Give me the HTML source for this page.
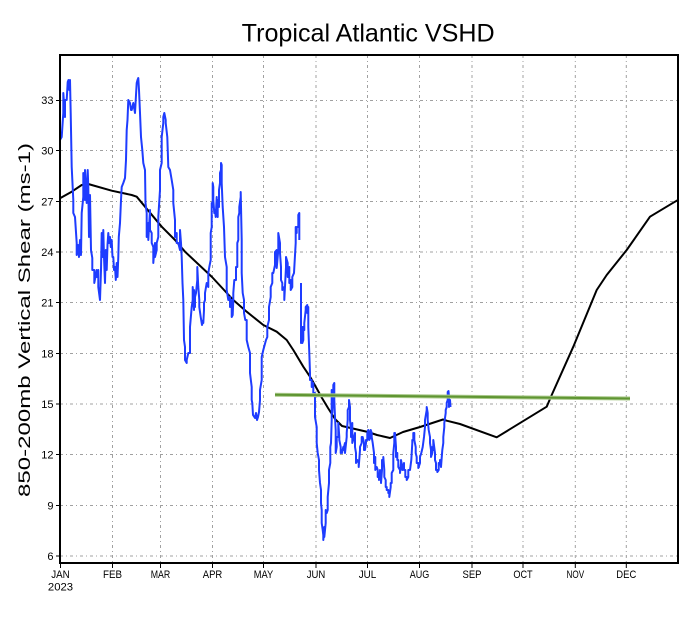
<!DOCTYPE html>
<html><head><meta charset="utf-8"><style>
html,body{margin:0;padding:0;background:#fff;}
svg{display:block;}
text{font-family:"Liberation Sans",sans-serif;fill:#000;}
</style></head><body>
<svg width="690" height="618" viewBox="0 0 690 618" xmlns="http://www.w3.org/2000/svg">
<rect width="690" height="618" fill="#fff"/>
<text x="241.7" y="41.7" font-size="25" textLength="253" lengthAdjust="spacingAndGlyphs">Tropical Atlantic VSHD</text>
<text transform="translate(30,320) rotate(-90)" text-anchor="middle" font-size="16.3" textLength="354" lengthAdjust="spacingAndGlyphs">850-200mb Vertical Shear (ms-1)</text>
<g stroke="#a0a0a0" stroke-width="1" stroke-dasharray="3 3 1 3" fill="none">
<line x1="60" y1="100.5" x2="678" y2="100.5"/>
<line x1="60" y1="150.5" x2="678" y2="150.5"/>
<line x1="60" y1="201.5" x2="678" y2="201.5"/>
<line x1="60" y1="252" x2="678" y2="252"/>
<line x1="60" y1="302.5" x2="678" y2="302.5"/>
<line x1="60" y1="353.5" x2="678" y2="353.5"/>
<line x1="60" y1="404" x2="678" y2="404"/>
<line x1="60" y1="454.5" x2="678" y2="454.5"/>
<line x1="60" y1="505.5" x2="678" y2="505.5"/>
<line x1="60" y1="556" x2="678" y2="556"/>
<line x1="112.5" y1="55" x2="112.5" y2="563"/>
<line x1="160.5" y1="55" x2="160.5" y2="563"/>
<line x1="212.5" y1="55" x2="212.5" y2="563"/>
<line x1="263.5" y1="55" x2="263.5" y2="563"/>
<line x1="316" y1="55" x2="316" y2="563"/>
<line x1="367.5" y1="55" x2="367.5" y2="563"/>
<line x1="419.5" y1="55" x2="419.5" y2="563"/>
<line x1="472" y1="55" x2="472" y2="563"/>
<line x1="523" y1="55" x2="523" y2="563"/>
<line x1="575.3" y1="55" x2="575.3" y2="563"/>
<line x1="626.3" y1="55" x2="626.3" y2="563"/>
</g>
<g stroke="#000" stroke-width="1">
<line x1="56" y1="100.5" x2="60" y2="100.5"/>
<line x1="56" y1="150.5" x2="60" y2="150.5"/>
<line x1="56" y1="201.5" x2="60" y2="201.5"/>
<line x1="56" y1="252" x2="60" y2="252"/>
<line x1="56" y1="302.5" x2="60" y2="302.5"/>
<line x1="56" y1="353.5" x2="60" y2="353.5"/>
<line x1="56" y1="404" x2="60" y2="404"/>
<line x1="56" y1="454.5" x2="60" y2="454.5"/>
<line x1="56" y1="505.5" x2="60" y2="505.5"/>
<line x1="56" y1="556" x2="60" y2="556"/>
<line x1="60.5" y1="563" x2="60.5" y2="568"/>
<line x1="112.5" y1="563" x2="112.5" y2="568"/>
<line x1="160.5" y1="563" x2="160.5" y2="568"/>
<line x1="212.5" y1="563" x2="212.5" y2="568"/>
<line x1="263.5" y1="563" x2="263.5" y2="568"/>
<line x1="316" y1="563" x2="316" y2="568"/>
<line x1="367.5" y1="563" x2="367.5" y2="568"/>
<line x1="419.5" y1="563" x2="419.5" y2="568"/>
<line x1="472" y1="563" x2="472" y2="568"/>
<line x1="523" y1="563" x2="523" y2="568"/>
<line x1="575.3" y1="563" x2="575.3" y2="568"/>
<line x1="626.3" y1="563" x2="626.3" y2="568"/>
</g>
<g font-size="11" text-anchor="end">
<text x="53.5" y="104">33</text>
<text x="53.5" y="154.5">30</text>
<text x="53.5" y="205.5">27</text>
<text x="53.5" y="256">24</text>
<text x="53.5" y="306.5">21</text>
<text x="53.5" y="357.5">18</text>
<text x="53.5" y="408">15</text>
<text x="53.5" y="458.5">12</text>
<text x="53.5" y="509.5">9</text>
<text x="53.5" y="560">6</text>
</g>
<g font-size="11.3" text-anchor="middle">
<text x="60.5" y="578" textLength="18.5" lengthAdjust="spacingAndGlyphs">JAN</text>
<text x="60.5" y="590.5">2023</text>
<text x="112.5" y="578" textLength="19" lengthAdjust="spacingAndGlyphs">FEB</text>
<text x="160.5" y="578" textLength="19.5" lengthAdjust="spacingAndGlyphs">MAR</text>
<text x="212.5" y="578" textLength="19.5" lengthAdjust="spacingAndGlyphs">APR</text>
<text x="263.5" y="578" textLength="19.5" lengthAdjust="spacingAndGlyphs">MAY</text>
<text x="316" y="578" textLength="18.5" lengthAdjust="spacingAndGlyphs">JUN</text>
<text x="367.5" y="578" textLength="17.5" lengthAdjust="spacingAndGlyphs">JUL</text>
<text x="419.5" y="578" textLength="19.5" lengthAdjust="spacingAndGlyphs">AUG</text>
<text x="472" y="578" textLength="19" lengthAdjust="spacingAndGlyphs">SEP</text>
<text x="523" y="578" textLength="19.3" lengthAdjust="spacingAndGlyphs">OCT</text>
<text x="575.3" y="578" textLength="17.7" lengthAdjust="spacingAndGlyphs">NOV</text>
<text x="626.3" y="578" textLength="20" lengthAdjust="spacingAndGlyphs">DEC</text>
</g>
<polyline fill="none" stroke="#000" stroke-width="2" stroke-linejoin="round" points="60,198.3 71.7,191.7 81.7,185 88.3,184 91.7,185 111.7,190.7 131.7,195 136.7,196.7 145,206.7 161.7,226.7 175,240 185,251.7 212,277 233.3,300 246.7,311.7 263.3,325 276.7,331.7 286.7,340 293.3,350 303.3,366.7 310,376.7 312,380 322,398 328,408 335,419 342,426 355,429 368,432 377,435 390,438 403,432 420,427 443,419.5 446.7,420.7 460,424 496.7,437.3 546.7,406.7 551.7,395 573.3,346.7 596.7,290 606.7,275 626.7,250 650,216.7 673.3,202.7 678,200"/>
<g fill="none" stroke="#1e3cff" stroke-width="2" stroke-linejoin="round">
<polyline points="60,157 60,140 61.7,137 63.3,113 63.3,93 65,117 65,100 66.7,100 67.7,82 68.5,80 69.3,90 70,80 70.7,113 71.7,167 73.3,200 73.3,213 75,217 76.7,243 76.7,255 78,245 79,257 80,240 81,255 81.7,213 83.3,197 83.3,173 85,200 85,170 86.7,203 87.7,170 88.3,187 89,237 90,195 91,250 92.3,258 92.3,270 94.3,270 94.3,283 96.7,270 96.7,277 98.3,270 98.3,287 100,300 101,270 101.7,233 102.5,257 103.3,230 104,257 105,283 105.8,250 106.7,270 107.5,245 108.3,233 109,243 110,237 110.8,247 111.7,240 112.5,257 113.3,257 114,270 115,267 115.8,280 116.7,263 117.5,277 118.3,257 118.8,237 120,223 121,200 121.7,187 123.3,183 125,178 126,160 126.7,130 127.5,120 128.3,100 130,103 131,110 131.7,110 133.3,103 135,113 136,95 136.7,83 137.5,80 138.3,78 139,90 140,113 141,137 142.3,150 143.3,163 145,170 145.5,203 146.7,213 146.7,237 148.3,223 148.3,240 150,210 150,230 151.7,233 151.7,243 153.3,247 153.3,263 155,243 155,257 156.7,250 156.7,243 158.3,237 158.3,217 160,190 160,170 161.7,163 161.7,137 163.3,123 163.3,117 164.3,113 165.7,120 165.7,123 167.3,137 168.3,167 170,170 171.7,180 173.3,190 173.3,203 175,220 175,237 176.7,233 176.7,243 178.3,243 180,250 180,230 181,243 181.7,257 182.5,283 183.3,300 184,340 185,347 185,360 186.7,363 186.7,360 188.3,353 190,353 190,327 191.7,307 192.7,300 192.7,287 194,310 194,290 195,307 195,297 196,293 197.3,280 197.3,267 198.3,287 199.3,300 199.3,307 200.7,317 202,325 203.3,320 203.3,323 204,310 204,303 205,300 205,293 206.7,283 208.3,287 208.3,273 209.3,267 210.7,260 210.7,233 211.7,227 211.7,203 212.7,207 212.7,183 213.3,187 213.3,200 214.3,213 215,210 215.7,217 216.7,197 216.7,213 217.7,217 217.7,200 219,207 219,190 220,183 220,173 221,170 221,163 221.7,165 221.7,183 222.7,207 224,227 225,257 226.7,267 226.7,290 228.3,300 230,297 230,307 231.7,300 231.7,317 232.7,315 233.3,300 233.3,293 234.3,280 236,280 236,267 237.3,267 237.3,243 238.3,240 238.3,217 239.3,213 239.3,207 240.7,197 240.7,192 241.7,240 241.7,273 242.7,293 244,300 244,313 245.3,320 246.7,320 246.7,340 248.3,347 250,353 250,373 251.7,387 251.7,400 252.3,403 253,415 255,418 256,413 257,420 258,417 259,412 260,400 260,390 261.7,380 261.7,357 263.3,350 266,340 267.3,337 267.3,327 269,320 269,307 270.7,297 270.7,287 272.3,283 272.3,273 273.3,273 275,265 275,252 276.7,250 276.7,268 278.3,250 278.3,233 280,243 280,253 281,267 281,280 282.3,283 282.3,290 284.3,287 284.3,300 286,267 286,257 287.7,263 287.7,277 289.3,267 289.3,283 290.7,280 290.7,290 292.3,287 292.3,277 294,273 295.7,243 295.7,227 296.7,233 296.7,227 298.3,227 298.3,215 299.3,213 299.3,240"/>
<polyline points="301,283 301,343 302.3,327 302.3,343 303.3,340 303.3,327 304.3,330 304.3,323 305.7,310 305.7,307 307.3,305 307.3,313 308.3,307 308.3,327 309.3,353 310,373 310,380 311.7,380 311.7,387 313.3,383 313.3,393 315,393 315,417 316.7,427 316.7,443 317.7,453 319,460 319,470 320,483 321,490 321,503 321.7,510 321.7,523 322.7,530 323.3,535 323.3,540 324.3,527 324.3,537 325.7,523 325.7,510 326.7,513 327.7,510 327.7,497 329,483 329,470 330.3,463 330.3,447 331,443 331.7,420 331.7,390 332.3,413 333.3,397 333.3,385 334.3,383 334.3,400 335,417 335.7,430 335.7,453 336.7,447 336.7,437 338.3,437 338.3,423 339.3,437 339.3,440 340.7,447 340.7,453 342,450 342,453 343.3,447 343.3,450 345,443 345,453 346.7,437 346.7,433 347.7,420 347.7,410 349,407 349,400 350,407 350,420 351,430 351,437 352.3,423 352.3,443 354,437 355,433 355,447 356,453 356,463 357.3,460 358.7,463 358.7,467 360,450 360,447 361.7,443 361.7,437 362.7,437 364,443 364,450 365,450 366,443 366,440 367.3,440 367.3,433 368.3,430 369.3,433 369.3,440 370.7,437 370.7,430 371.7,433 371.7,437 372.7,443 374,453 374,463 375.3,457 375.3,470 376.7,467 377.7,470 377.7,477 379,477 379,480 380,470 381,473 381,483 382,470 382,460 383.3,460 383.3,457 384.3,470 384.3,477 385.7,480 385.7,487 386.7,487 386.7,490 388.3,490 388.3,493 389.3,493 389.3,497 390.7,487 390.7,483 391.7,483 391.7,473 393.3,470 393.3,453 394.3,443 394.3,433 395,433 396,447 396,457 397.3,453 397.3,460 398.3,460 398.3,467 400,470 400,473 401,463 401,460 402.3,467 402.3,470 404,463 404,470 405.3,470 405.3,477 406.7,477 406.7,480 408.3,477 408.3,470 410,470 411.3,460 412.3,443 412.3,440 413.3,440 413.3,433 414.3,433 414.3,440 415.7,447 415.7,453 416.7,457 416.7,463 418.3,463 418.3,468 420,463 420,457 421.3,453 422.7,447 424,437 425,427 425,420 426.7,410 426.7,407 427.7,413 427.7,420 428.7,430 430,437 430,443 431,450 431,457 432.3,453 432.3,447 433.3,450 433.3,440 435,453 435,460 436,463 436,470 437.3,470 437.3,472 438.7,470 438.7,463 440,463 440,460 441,467 442.3,450 443.3,443 443.3,437 444.3,427 444.3,423 445.7,413 445.7,410 446.7,407 446.7,403 447.7,400 447.7,392 448.5,391 449,397 449,407 450,400 450.5,407"/>
</g>
<line x1="275" y1="394.8" x2="630" y2="398.5" stroke="#a9c98a" stroke-width="4" stroke-linecap="butt"/>
<line x1="275" y1="394.8" x2="630" y2="398.5" stroke="#5f9532" stroke-width="2"/>
<rect x="60" y="55" width="618" height="508" fill="none" stroke="#000" stroke-width="2"/>
</svg>
</body></html>
